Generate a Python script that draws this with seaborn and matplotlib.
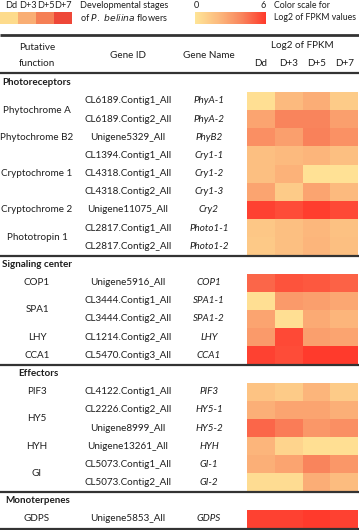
import numpy as np
import pandas as pd
import seaborn as sns
import matplotlib.pyplot as plt
from matplotlib.colors import LinearSegmentedColormap, ListedColormap

# Data
stages = ["Dd", "D+3", "D+5", "D+7"]
stage_colors = ["#FDDB8C", "#F9AE74", "#F57F55", "#EE4738"]

sections = ["Photoreceptors", "Signaling center", "Effectors", "Monoterpenes"]
gene_section = (["Photoreceptors"] * 9 + ["Signaling center"] * 5
                + ["Effectors"] * 6 + ["Monoterpenes"])
gene_function = ["Phytochrome A", "Phytochrome A", "Phytochrome B2",
                 "Cryptochrome 1", "Cryptochrome 1", "Cryptochrome 1",
                 "Cryptochrome 2", "Phototropin 1", "Phototropin 1",
                 "COP1", "SPA1", "SPA1", "LHY", "CCA1",
                 "PIF3", "HY5", "HY5", "HYH", "GI", "GI",
                 "GDPS"]
gene_id = ["CL6189.Contig1_All", "CL6189.Contig2_All", "Unigene5329_All",
           "CL1394.Contig1_All", "CL4318.Contig1_All", "CL4318.Contig2_All",
           "Unigene11075_All", "CL2817.Contig1_All", "CL2817.Contig2_All",
           "Unigene5916_All", "CL3444.Contig1_All", "CL3444.Contig2_All",
           "CL1214.Contig2_All", "CL5470.Contig3_All",
           "CL4122.Contig1_All", "CL2226.Contig2_All", "Unigene8999_All",
           "Unigene13261_All", "CL5073.Contig1_All", "CL5073.Contig2_All",
           "Unigene5853_All"]
gene_name = ["PhyA-1", "PhyA-2", "PhyB2", "Cry1-1", "Cry1-2", "Cry1-3",
             "Cry2", "Photo1-1", "Photo1-2",
             "COP1", "SPA1-1", "SPA1-2", "LHY", "CCA1",
             "PIF3", "HY5-1", "HY5-2", "HYH", "GI-1", "GI-2",
             "GDPS"]
log2_dd = [0.3, 2.8, 3.6, 1.8, 1.8, 2.8, 5.8, 1.4, 1.3,
           4.8, 0.3, 2.8, 3.2, 5.8,
           1.6, 2.4, 4.8, 2.2, 2.4, 0.4,
           5.8]
log2_d3 = [2.0, 4.0, 3.0, 2.0, 2.3, 1.2, 5.5, 1.8, 1.8,
           5.3, 3.2, 0.3, 5.6, 5.5,
           1.2, 2.8, 4.2, 0.8, 2.8, 0.4,
           5.8]
log2_d5 = [2.5, 4.0, 4.1, 2.2, 0.2, 2.8, 5.9, 2.1, 2.2,
           5.2, 3.0, 2.6, 3.0, 6.0,
           2.2, 2.8, 3.3, 0.3, 4.0, 2.5,
           6.0]
log2_d7 = [1.2, 3.0, 3.5, 1.8, 0.2, 2.0, 5.6, 1.7, 1.8,
           4.9, 2.7, 2.2, 2.8, 6.0,
           1.2, 2.4, 3.6, 0.3, 3.3, 1.9,
           5.8]

# Build table with a blank (NaN) row for each section header
rows = []
for sec in sections:
    rows.append({"label": sec, "header": True})
    for i, s in enumerate(gene_section):
        if s == sec:
            rows.append({"label": gene_name[i], "header": False, "idx": i})
values = []
for r in rows:
    if r["header"]:
        values.append([np.nan] * 4)
    else:
        i = r["idx"]
        values.append([log2_dd[i], log2_d3[i], log2_d5[i], log2_d7[i]])
df = pd.DataFrame(values, columns=stages)

cmap = LinearSegmentedColormap.from_list(
    "fpkm", ["#FFE597", "#FCBA7E", "#F9845C", "#FF3A2C"])

W, H = 359, 530
fig = plt.figure(figsize=(W / 100, H / 100), dpi=100)
plt.rcParams['font.family'] = ['Lato', 'DejaVu Sans']
fs = 7.1
fl = 6.6
tc = "#1e1e1e"

top = 73.7
rh = 18.17
hx0, hx1 = 247, 358
bottom = top + rh * len(rows)


def fig_rect(x0, y0, x1, y1):
    return [x0 / W, 1 - y1 / H, (x1 - x0) / W, (y1 - y0) / H]


hax = fig.add_axes(fig_rect(hx0, top, hx1, bottom))
sns.heatmap(df, ax=hax, cmap=cmap, vmin=0, vmax=6, cbar=False,
            xticklabels=False, yticklabels=False)
hax.axis("off")

# legend: developmental stages
lax = fig.add_axes(fig_rect(0, 12, 72, 23.5))
sns.heatmap(pd.DataFrame([list(range(4))], columns=stages), ax=lax,
            cmap=ListedColormap(stage_colors), cbar=False,
            xticklabels=False, yticklabels=False)
lax.axis("off")

# legend: color scale
cax = fig.add_axes(fig_rect(195, 12, 266, 24))
cax.imshow(np.linspace(0, 6, 200)[None, :], aspect="auto", cmap=cmap,
           vmin=0, vmax=6)
cax.axis("off")

ax = fig.add_axes([0, 0, 1, 1], facecolor="none")
ax.set_xlim(0, W)
ax.set_ylim(H, 0)
ax.axis("off")

for k, st in enumerate(stages):
    ax.text(11 + 17.4 * k, 5, st, ha="center", va="center", fontsize=fl, color=tc)
ax.text(80, 5, "Developmental stages", ha="left", va="center", fontsize=fl, color=tc)
ax.text(80, 17.5, "of $\\it{P.\\ beliina}$ flowers", ha="left", va="center",
        fontsize=fl, color=tc)
ax.text(196, 5, "0", ha="center", va="center", fontsize=fl, color=tc)
ax.text(263, 5, "6", ha="center", va="center", fontsize=fl, color=tc)
ax.text(274, 5, "Color scale for", ha="left", va="center", fontsize=6.3, color=tc)
ax.text(274, 18, "Log2 of FPKM values", ha="left", va="center", fontsize=6.3, color=tc)

# column headers
fx, idx_x, nx = 37, 128, 209
ax.text(fx, 47, "Putative", ha="center", va="center", fontsize=fs, color=tc)
ax.text(fx, 63, "function", ha="center", va="center", fontsize=fs, color=tc)
ax.text(idx_x, 55, "Gene ID", ha="center", va="center", fontsize=fs, color=tc)
ax.text(nx, 55, "Gene Name", ha="center", va="center", fontsize=fs, color=tc)
ax.text(302, 45, "Log2 of FPKM", ha="center", va="center", fontsize=fs, color=tc)
cw = (hx1 - hx0) / 4
for k, st in enumerate(stages):
    ax.text(hx0 + cw * (k + 0.5), 64, st, ha="center", va="center",
            fontsize=fs, color=tc)

# rows
sec_x = {"Photoreceptors": 2, "Signaling center": 2, "Effectors": 18,
         "Monoterpenes": 5}
func_rows = {}
for j, r in enumerate(rows):
    yc = top + rh * (j + 0.5)
    if r["header"]:
        ax.text(sec_x[r["label"]], yc, r["label"], ha="left", va="center",
                fontsize=fs, fontweight="bold", color=tc)
        continue
    i = r["idx"]
    ax.text(idx_x, yc, gene_id[i], ha="center", va="center", fontsize=fs, color=tc)
    ax.text(nx, yc, gene_name[i], ha="center", va="center", fontsize=fs,
            style="italic", color=tc)
    func_rows.setdefault(gene_function[i], []).append(yc)
for f, ys in func_rows.items():
    ax.text(fx, np.mean(ys), f, ha="center", va="center", fontsize=fs, color=tc)

# rules
for y, lw in [(35, 2.0), (73, 1.6), (256.2, 1.6), (364.8, 1.6),
              (492.3, 1.6), (529, 1.6)]:
    ax.plot([0, W], [y, y], color="#333333", lw=lw, solid_capstyle="butt")

fig.savefig("out.png", dpi=100)
